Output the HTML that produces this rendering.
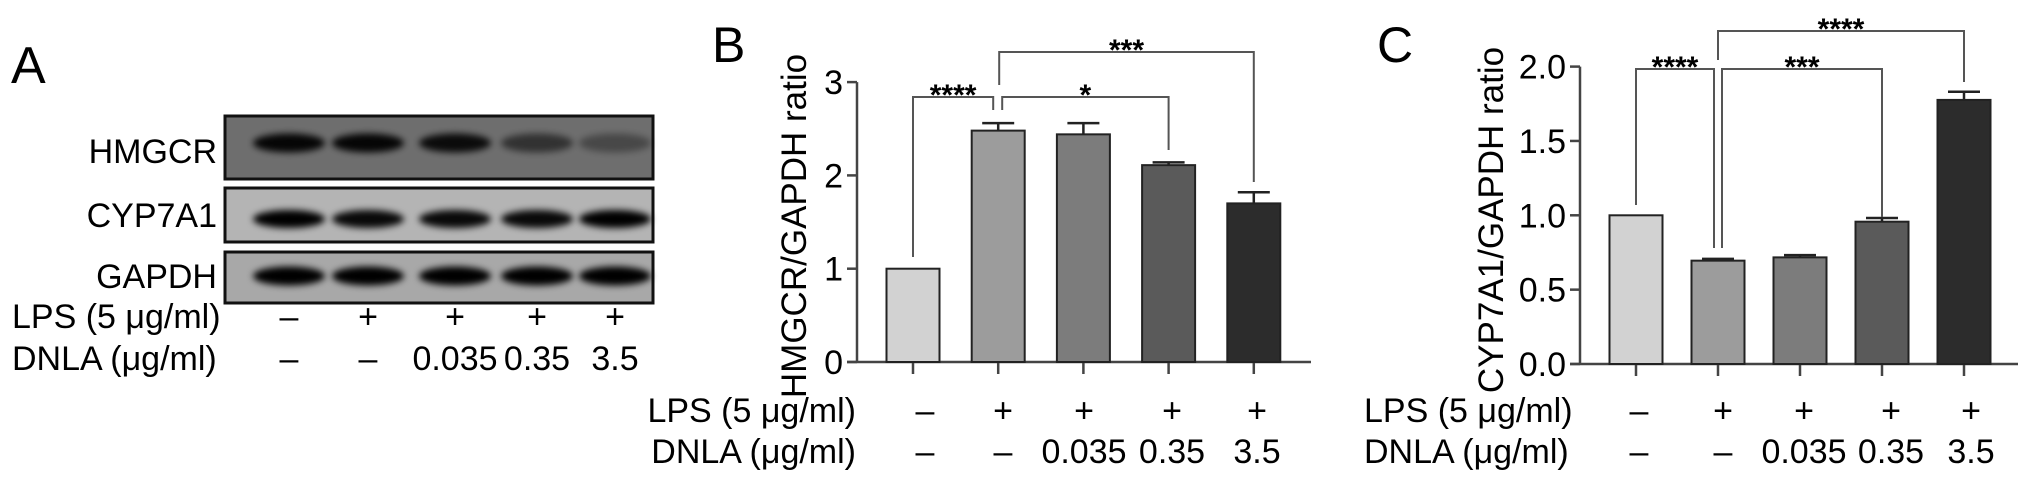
<!DOCTYPE html>
<html><head><meta charset="utf-8"><style>
html,body{margin:0;padding:0;background:#fff;}
svg{display:block;font-family:"Liberation Sans",sans-serif;}
</style></head><body>
<svg id="fig" width="2032" height="483" viewBox="0 0 2032 483">
<defs>
<filter id="blur" x="-20%" y="-50%" width="140%" height="200%"><feGaussianBlur stdDeviation="3.5"/></filter>
</defs>
<g id="panelA"></g>
<g id="panelB"></g>
<g id="panelC"></g>
</svg>
<script>
const groups = ["control","LPS","LPS+DNLA 0.035","LPS+DNLA 0.35","LPS+DNLA 3.5"];
const lpsLabels = ["–","+","+","+","+"];
const dnlaLabels = ["–","–","0.035","0.35","3.5"];
const barColors = ["#d2d2d2","#9c9c9c","#7c7c7c","#5a5a5a","#2c2c2c"];
const hmgcrValues = [1.0, 2.48, 2.44, 2.11, 1.70];
const hmgcrErrors = [0, 0.08, 0.12, 0.03, 0.12];
const hmgcrTicks = ["0","1","2","3"];
const hmgcrTickValues = [0,1,2,3];
const cypValues = [1.0, 0.695, 0.717, 0.957, 1.776];
const cypErrors = [0, 0.012, 0.015, 0.025, 0.055];
const cypTicks = ["0.0","0.5","1.0","1.5","2.0"];
const cypTickValues = [0,0.5,1,1.5,2];
const hmgcrBandIntensity = [0.95, 0.95, 0.9, 0.55, 0.35];
const cypBandIntensity = [1, 0.95, 0.95, 0.95, 1];
const gapdhBandIntensity = [1, 1, 1, 1, 1];
const hmgcrSig = [[0,1,"****"],[1,3,"*"],[1,4,"***"]];
const cypSig = [[0,1,"****"],[1,3,"***"],[1,4,"****"]];

const NS="http://www.w3.org/2000/svg";
function mk(parent, tag, attrs, text){
  const e=document.createElementNS(NS,tag);
  for(const k in attrs) e.setAttribute(k,attrs[k]);
  if(text!==undefined) e.textContent=text;
  parent.appendChild(e); return e;
}

/* Panel A */
const A=document.getElementById('panelA');
let t=mk(A,'text',{x:11,y:83,'font-size':52},'A');


const laneX=[289,368,455,537,615];
const blots=[["HMGCR",116,179,"#6e6e6e",hmgcrBandIntensity,143,15,163],["CYP7A1",188,242,"#b4b4b4",cypBandIntensity,219,14,227],["GAPDH",252,303,"#a8a8a8",gapdhBandIntensity,276,15,288]];
blots.forEach(b=>{
  const g=mk(A,'g',{});
  
  
  mk(g,'rect',{x:225,y:b[1],width:428,height:b[2]-b[1],fill:b[3],stroke:'#111','stroke-width':3});
  b[4].forEach((v,i)=>{
    const bd=mk(g,'ellipse',{cx:laneX[i],cy:b[5],rx:36,ry:b[6]/2+2,fill:'#000','fill-opacity':v,filter:'url(#blur)'});
    
    
  });
  const l=mk(A,'text',{x:217,y:b[7],'font-size':34,'text-anchor':'end'},b[0]);
  
  
});
function condRows(P, leftX, anchor, xs, y1, y2){
  let a=mk(P,'text',{x:leftX,y:y1,'font-size':34,'text-anchor':anchor},'LPS (5 μg/ml)');
  
  
  let b=mk(P,'text',{x:leftX,y:y2,'font-size':34,'text-anchor':anchor},'DNLA (μg/ml)');
  
  
  xs.forEach((x,i)=>{
    let c=mk(P,'text',{x:x,y:y1,'font-size':34,'text-anchor':'middle'},lpsLabels[i]);
    
    
    let d=mk(P,'text',{x:x,y:y2,'font-size':34,'text-anchor':'middle'},dnlaLabels[i]);
    
    
  });
}
condRows(A,12,'start',laneX,328,370);

/* Bar panels */
function barPanel(P, cfg){
  const y=v=>cfg.y0-v*cfg.unit;
  const xc=i=>cfg.x0+i*cfg.step;
  let L=mk(P,'text',{x:cfg.lx,y:62,'font-size':50},cfg.letter);
  
  
  let yt=mk(P,'text',{x:0,y:0,'font-size':35,'text-anchor':'middle',transform:`translate(${cfg.ytx},${cfg.yty}) rotate(-90)`},cfg.ytitle);
  
  
  const top=y(cfg.ticks[cfg.ticks.length-1]);
  let ax=mk(P,'path',{d:`M${cfg.ax},${top}V${cfg.y0}M${cfg.ax-10},${cfg.y0}H${cfg.axEnd}`,stroke:'#444','stroke-width':2.5,fill:'none'});
  
  
  cfg.ticks.forEach((v,i)=>{
    mk(P,'line',{x1:cfg.ax-10,x2:cfg.ax,y1:y(v),y2:y(v),stroke:'#444','stroke-width':2.5});
    let tl=mk(P,'text',{x:cfg.ax-14,y:y(v)+12,'font-size':34,'text-anchor':'end'},cfg.tickLabels[i]);
    
    
  });
  const bw=53;
  cfg.values.forEach((v,i)=>{
    const x=xc(i);
    mk(P,'line',{x1:x,x2:x,y1:cfg.y0,y2:cfg.y0+12,stroke:'#444','stroke-width':2.5});
    if(cfg.errors[i]>0){
      const e=mk(P,'path',{d:`M${x},${y(v)}V${y(v+cfg.errors[i])}M${x-16},${y(v+cfg.errors[i])}H${x+16}`,stroke:'#222','stroke-width':2.5,fill:'none'});
      
      
    }
    const r=mk(P,'rect',{x:x-bw/2,y:y(v),width:bw,height:cfg.y0-y(v),fill:barColors[i],stroke:'#222','stroke-width':2});
    
    
  });
  cfg.sig.forEach((s,k)=>{
    const [a,b,lab]=s; const h=cfg.bh[k];
    const xa=xc(a)+cfg.off[k][0];
    const xb=xc(b)+cfg.off[k][1];
    const d=`M${xa},${cfg.bl[k][0]}V${h}H${xb}V${cfg.bl[k][1]}`;
    const p=mk(P,'path',{d:d,stroke:'#555','stroke-width':2,fill:'none'});
    
    
    const st=mk(P,'text',{x:(xa+xb)/2,y:h+8,'font-size':30,'font-weight':'bold','text-anchor':'middle'},lab);
    
    
  });
  condRows(P,cfg.rowX,cfg.rowAnchor,cfg.colX,422,463);
}
barPanel(document.getElementById('panelB'),{
  letter:'B',lx:712,ax:857,axEnd:1311,y0:362,unit:93.3,x0:913,step:85.2,
  ticks:hmgcrTickValues,tickLabels:hmgcrTicks,values:hmgcrValues,errors:hmgcrErrors,
  ytitle:'HMGCR/GAPDH ratio',ytx:806,yty:226,sig:hmgcrSig,
  bh:[97,97,52],bl:[[257,110],[110,150],[85,182]],off:[[0,-5],[4,0],[1,0]],
  rowX:856,rowAnchor:'end',colX:[925,1003,1084,1172,1257]
});
barPanel(document.getElementById('panelC'),{
  letter:'C',lx:1377,ax:1580,axEnd:2018,y0:364,unit:148.7,x0:1636,step:82,
  ticks:cypTickValues,tickLabels:cypTicks,values:cypValues,errors:cypErrors,
  ytitle:'CYP7A1/GAPDH ratio',ytx:1503,yty:220,sig:cypSig,
  bh:[69,69,31],bl:[[205,248],[248,217],[60,82]],off:[[0,-4],[4,0],[0,0]],
  rowX:1364,rowAnchor:'start',colX:[1639,1723,1804,1891,1971]
});
</script>
</body></html>
